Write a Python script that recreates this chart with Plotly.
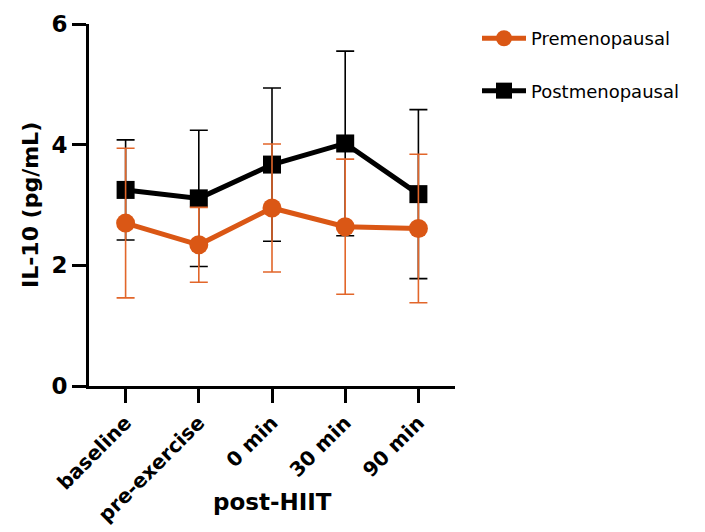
import plotly.graph_objects as go

categories = ["baseline", "pre-exercise", "0 min", "30 min", "90 min"]
pre_mean = [2.70, 2.34, 2.95, 2.64, 2.61]
pre_sd = [1.24, 0.62, 1.06, 1.12, 1.23]
post_mean = [3.25, 3.11, 3.67, 4.02, 3.18]
post_sd = [0.83, 1.13, 1.27, 1.53, 1.40]
y_ticks = [0, 2, 4, 6]

ORANGE = "#DA5715"
ORANGE_ERR = "#E2662A"
BLACK = "#000000"
FONT = "DejaVu Sans"

fig = go.Figure()
fig.add_trace(go.Scatter(
    x=categories, y=post_mean, name="Postmenopausal", mode="lines+markers",
    line=dict(color=BLACK, width=5), marker=dict(symbol="square", size=18, color=BLACK),
    error_y=dict(type="data", array=post_sd, visible=True, color=BLACK, thickness=1.6, width=9),
    legendgroup="b", legendrank=2,
))
fig.add_trace(go.Scatter(
    x=categories, y=pre_mean, name="Premenopausal", mode="lines+markers",
    line=dict(color=ORANGE, width=5), marker=dict(symbol="circle", size=19, color=ORANGE),
    error_y=dict(type="data", array=pre_sd, visible=True, color=ORANGE_ERR, thickness=1.6, width=9),
    legendgroup="a", legendrank=1,
))

# page has an 8px body margin; plot area spans page x 89..455, y 20..386
fig.update_layout(
    width=697, height=524,
    margin=dict(l=81, r=250, t=12, b=146),
    paper_bgcolor="white", plot_bgcolor="white",
    font=dict(family=FONT, color="black"),
    showlegend=True,
    legend=dict(
        x=(477 - 89) / 366, y=(386 - 16) / 366, xanchor="left", yanchor="top",
        font=dict(family=FONT, size=18, color="black"),
        tracegroupgap=26, itemwidth=44, bgcolor="rgba(0,0,0,0)",
    ),
    xaxis=dict(
        range=[-0.5, 4.5], showline=True, linewidth=3, linecolor="black",
        ticks="outside", ticklen=14, tickwidth=3, tickcolor="black",
        tickangle=-45, showgrid=False, zeroline=False,
        tickfont=dict(family=FONT, size=20, color="black", weight="bold"),
        automargin=False,
    ),
    yaxis=dict(
        range=[0, 6], tickvals=y_ticks, showline=True, linewidth=3, linecolor="black",
        ticks="outside", ticklen=14, tickwidth=3, tickcolor="black",
        showgrid=False, zeroline=False,
        tickfont=dict(family=FONT, size=23, color="black", weight="bold"),
        automargin=False,
    ),
    annotations=[
        dict(text="post-HIIT", x=2, y=(386 - 503) / 366, xref="x", yref="paper", showarrow=False,
             xanchor="center", yanchor="middle",
             font=dict(family=FONT, size=23, color="black", weight="bold")),
        dict(text="IL-10 (pg/mL)", x=(30 - 89) / 366, y=0.5, xref="paper", yref="paper",
             showarrow=False, textangle=-90, xanchor="center", yanchor="middle",
             font=dict(family=FONT, size=22, color="black", weight="bold")),
    ],
)

fig.write_html("out.html")
